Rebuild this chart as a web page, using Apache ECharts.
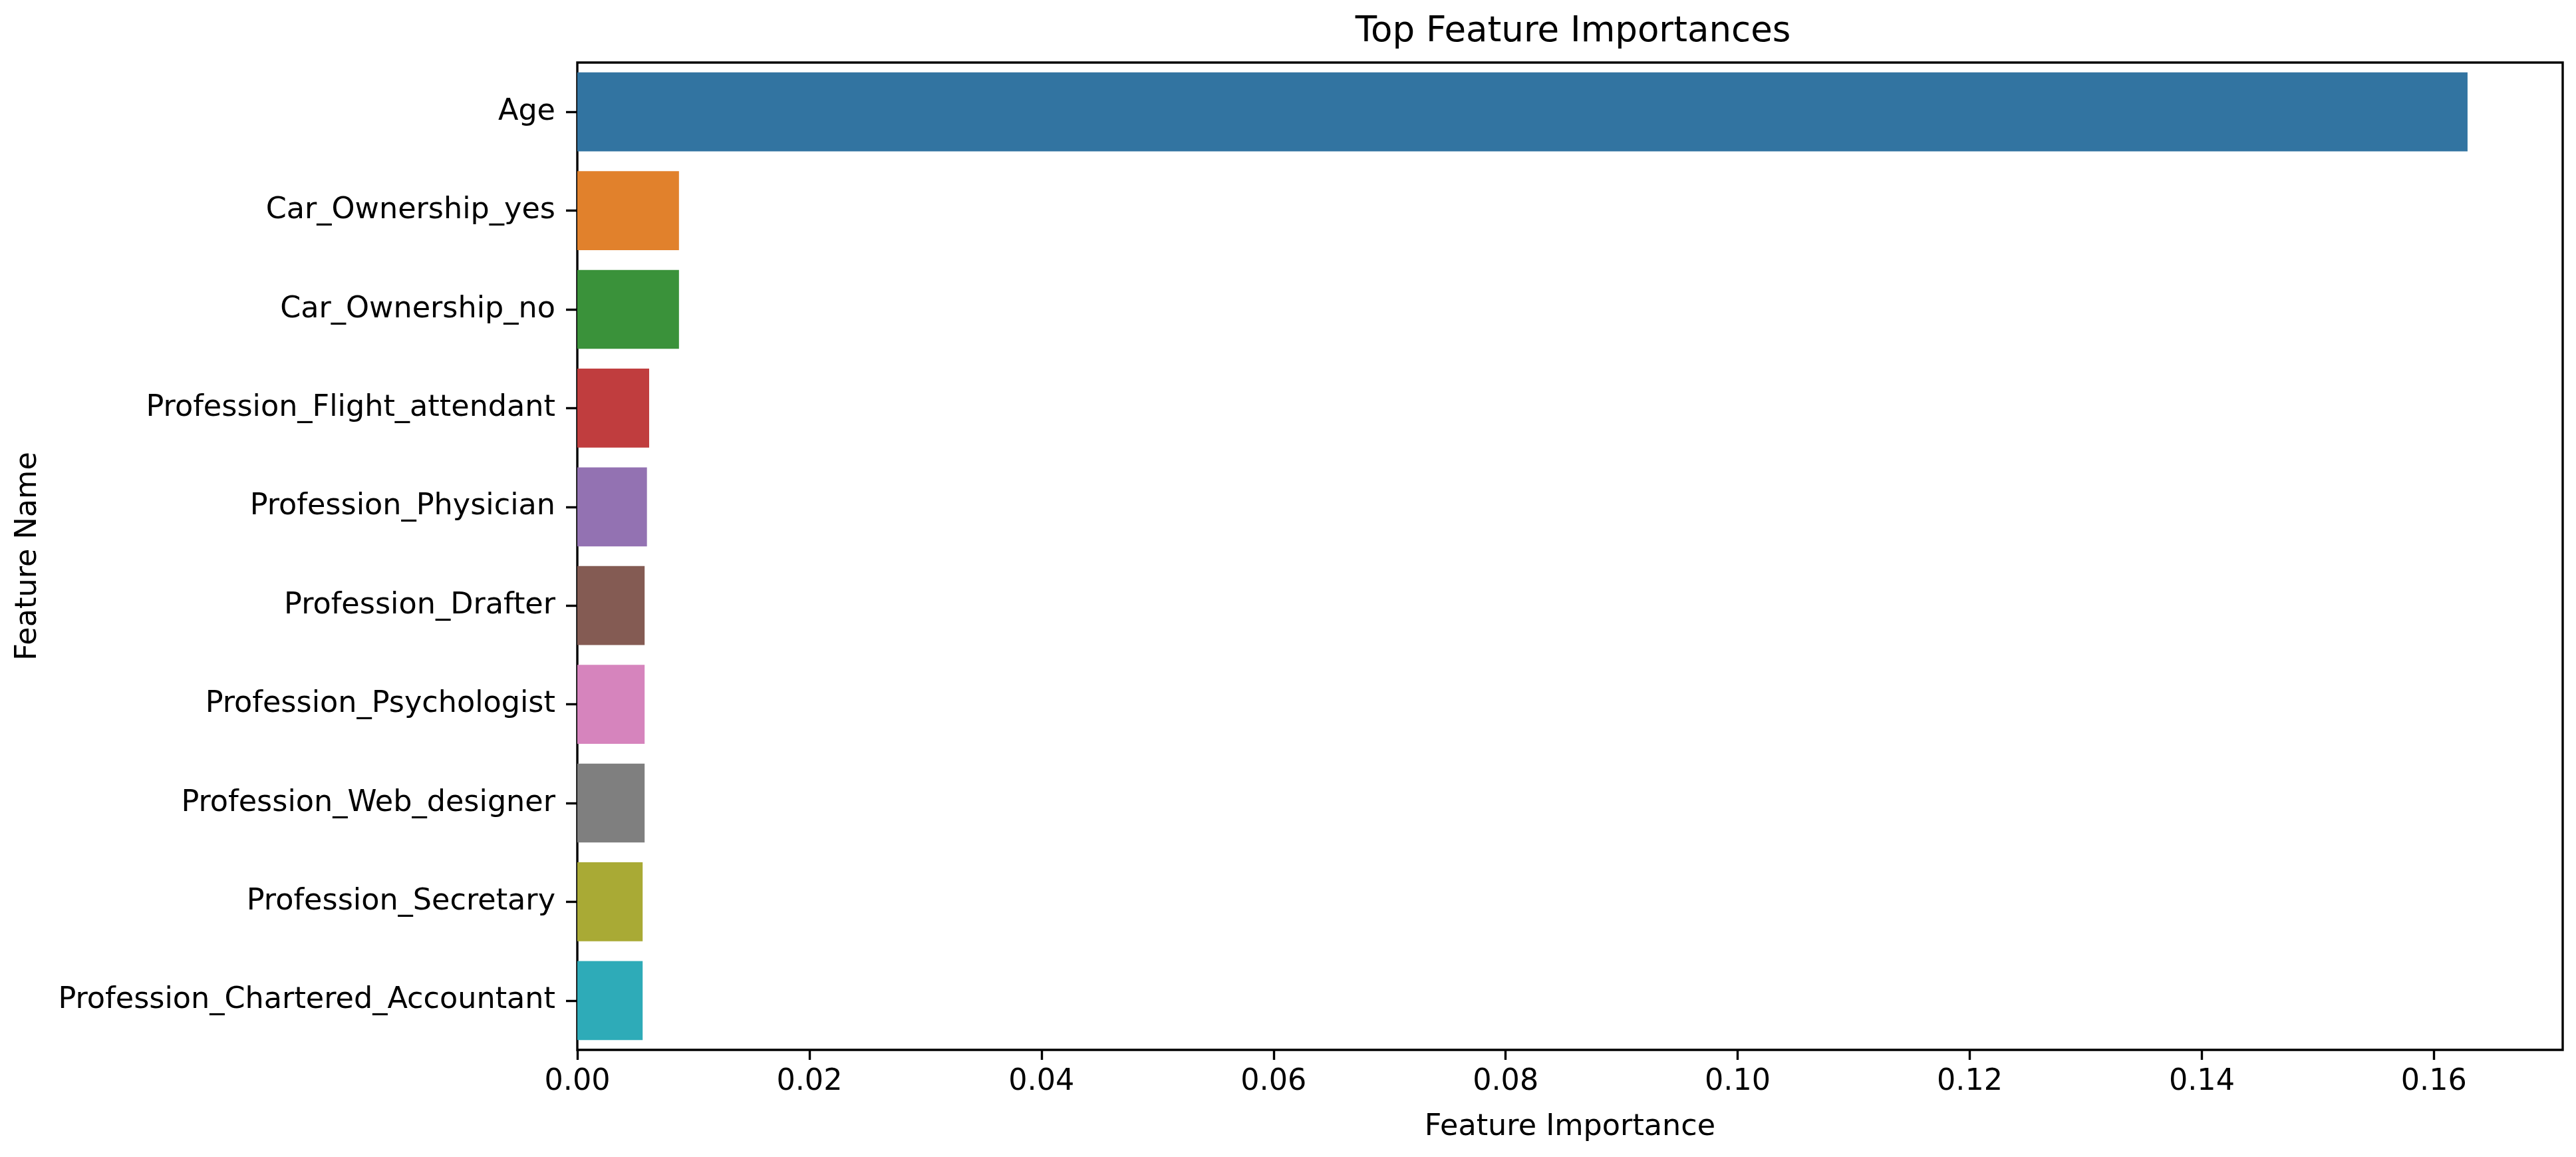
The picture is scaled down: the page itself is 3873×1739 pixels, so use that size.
<!DOCTYPE html>
<html>
<head>
<meta charset="utf-8">
<script src="https://cdn.jsdelivr.net/npm/echarts@6/dist/echarts.min.js"></script>
<style>
html,body{margin:0;padding:0;background:#fff;}
#chart{width:3873px;height:1739px;}
</style>
</head>
<body>
<div id="chart"></div>
<script>
const features = [
  "Age",
  "Car_Ownership_yes",
  "Car_Ownership_no",
  "Profession_Flight_attendant",
  "Profession_Physician",
  "Profession_Drafter",
  "Profession_Psychologist",
  "Profession_Web_designer",
  "Profession_Secretary",
  "Profession_Chartered_Accountant"
];
const importances = [0.1629, 0.00876, 0.00876, 0.00619, 0.00600, 0.00580, 0.00580, 0.00580, 0.00563, 0.00563];
const barColors = ["#3274a1", "#e1812c", "#3a923a", "#c03d3e", "#9372b2", "#845b53", "#d684bd", "#7f7f7f", "#a9aa35", "#2eabb8"];
const xTicks = [0, 0.02, 0.04, 0.06, 0.08, 0.10, 0.12, 0.14, 0.16];
const xMax = 0.1711;

const FONT = "DejaVu Sans";
const chart = echarts.init(document.getElementById('chart'), null, {renderer: 'canvas'});
chart.setOption({
  animation: false,
  backgroundColor: '#ffffff',
  title: {
    text: 'Top Feature Importances',
    left: 2360,
    textAlign: 'center',
    top: 17,
    textStyle: {fontFamily: FONT, fontSize: 53, fontWeight: 'normal', color: '#000'}
  },
  grid: {
    left: 868, right: 20, top: 94, bottom: 161,
    containLabel: false,
    outerBoundsMode: 'none',
    show: true,
    borderColor: '#000',
    borderWidth: 3.4,
    backgroundColor: 'transparent'
  },
  xAxis: {
    type: 'value',
    min: 0,
    max: xMax,
    name: 'Feature Importance',
    nameLocation: 'middle',
    nameGap: 94,
    nameTextStyle: {fontFamily: FONT, fontSize: 44.5, color: '#000'},
    splitLine: {show: false},
    axisLine: {show: false},
    axisTick: {show: true, length: 15, lineStyle: {color: '#000', width: 3.4}, customValues: xTicks},
    axisLabel: {
      fontFamily: FONT, fontSize: 44.5, color: '#000', margin: 26,
      customValues: xTicks,
      formatter: v => v.toFixed(2)
    }
  },
  yAxis: {
    type: 'category',
    data: features,
    inverse: true,
    name: 'Feature Name',
    nameLocation: 'middle',
    nameGap: 803,
    nameRotate: 90,
    nameTextStyle: {fontFamily: FONT, fontSize: 44.5, color: '#000'},
    axisLine: {show: false},
    axisTick: {show: true, alignWithLabel: true, length: 17, lineStyle: {color: '#000', width: 3.4}},
    axisLabel: {fontFamily: FONT, fontSize: 44.5, color: '#000', margin: 33}
  },
  series: [{
    type: 'bar',
    data: importances.map((v, i) => ({value: v, itemStyle: {color: barColors[i]}})),
    barCategoryGap: '20%',
    itemStyle: {borderWidth: 0}
  }]
});
</script>
</body>
</html>
